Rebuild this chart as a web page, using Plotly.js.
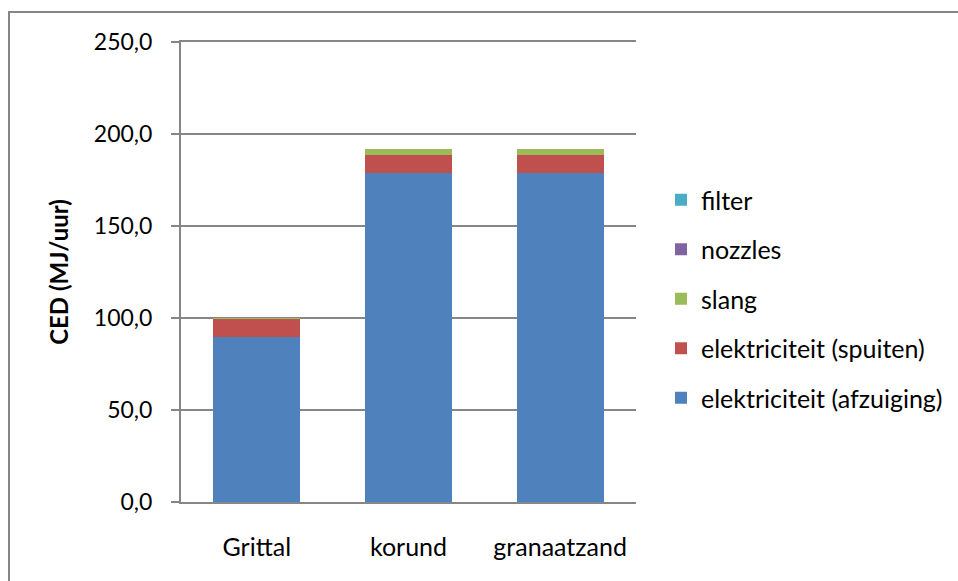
<!DOCTYPE html>
<html>
<head>
<meta charset="utf-8">
<script src="https://cdn.plot.ly/plotly-3.0.1.min.js"></script>
<style>html,body{margin:0;padding:0;background:#fff;}#chart{width:958px;height:581px;}</style>
</head>
<body>
<div id="chart"></div>
<script>
const categories = ["Grittal", "korund", "granaatzand"];
const afzuiging = [89.5, 179.0, 179.0];
const spuiten = [9.7, 9.8, 9.8];
const slang = [0.8, 3.0, 3.0];
const nozzles = [0.1, 0.1, 0.1];
const filter = [0.1, 0.1, 0.1];
const seriesNames = ["elektriciteit (afzuiging)", "elektriciteit (spuiten)", "slang", "nozzles", "filter"];
const seriesColors = ["#4F81BD", "#C0504D", "#9BBB59", "#8064A2", "#4BACC6"];
const seriesValues = [afzuiging, spuiten, slang, nozzles, filter];
const yTickVals = [0, 50, 100, 150, 200, 250];
const yTickText = ["0,0", "50,0", "100,0", "150,0", "200,0", "250,0"];

const FONT = "Lato, 'Open Sans', sans-serif";
const traces = seriesValues.map((vals, i) => ({
  type: "bar",
  name: seriesNames[i],
  x: categories,
  y: vals,
  legendgroup: "g" + i,
  legendrank: 1000 - i,
  marker: {color: seriesColors[i], line: {width: 0}},
  hoverinfo: "x+y+name"
}));

const L = 181, R = 636, T = 42, B = 502, W = 958, H = 581;
const pw = R - L, ph = B - T;
const layout = {
  width: W, height: H,
  margin: {l: L, r: W - R, t: T, b: H - B, pad: 0, autoexpand: false},
  barmode: "stack",
  bargap: 0.426,
  paper_bgcolor: "#ffffff",
  plot_bgcolor: "#ffffff",
  font: {family: FONT, size: 25, color: "#000000"},
  showlegend: true,
  legend: {
    x: (661 - L) / pw, xanchor: "left",
    y: (B - 299) / ph, yanchor: "middle",
    traceorder: "grouped",
    tracegroupgap: 14,
    font: {family: FONT, size: 25, color: "#000000"},
    bgcolor: "rgba(0,0,0,0)"
  },
  xaxis: {
    type: "category",
    showgrid: false,
    showline: true, mirror: true, linecolor: "#868686", linewidth: 2,
    ticks: "", ticklabelstandoff: 22,
    tickfont: {family: FONT, size: 25, color: "#000000"},
    zeroline: false, fixedrange: true
  },
  yaxis: {
    range: [0, 250],
    tickvals: yTickVals, ticktext: yTickText,
    showgrid: true, gridcolor: "#868686", gridwidth: 2,
    showline: true, linecolor: "#868686", linewidth: 2,
    ticks: "outside", ticklen: 8, tickcolor: "#868686", tickwidth: 2,
    ticklabelstandoff: 14,
    tickfont: {family: FONT, size: 23, color: "#000000"},
    zeroline: false, fixedrange: true,
    title: {text: "<b>CED (MJ/uur)</b>", font: {family: FONT, size: 24, color: "#000000"}, standoff: 18}
  },
  shapes: [{
    type: "rect", xref: "paper", yref: "paper",
    x0: (9 - L) / pw, x1: (W + 20 - L) / pw,
    y0: (B - (H + 20)) / ph, y1: (B - 12) / ph,
    line: {color: "#868686", width: 2}, fillcolor: "rgba(0,0,0,0)", layer: "below"
  }]
};
Plotly.newPlot("chart", traces, layout, {displayModeBar: false, staticPlot: true});
</script>
</body>
</html>
